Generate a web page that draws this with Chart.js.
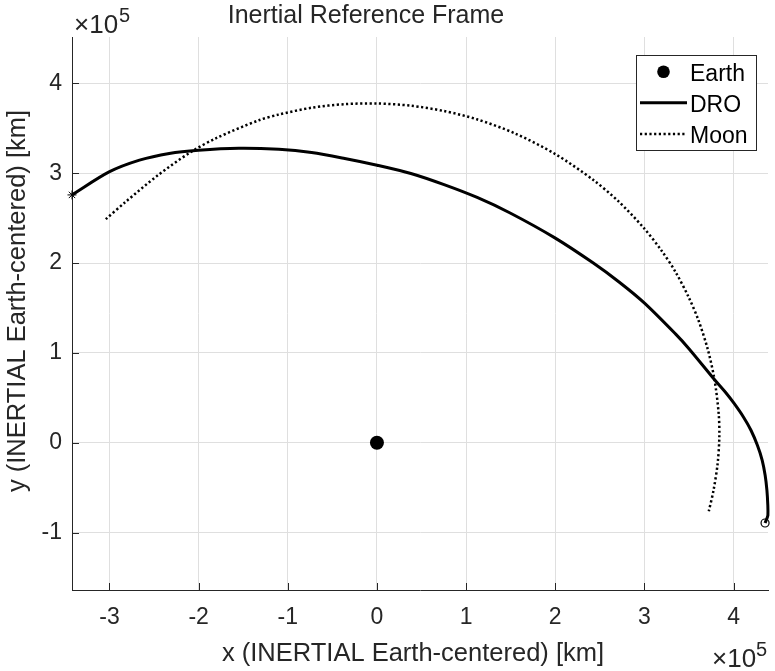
<!DOCTYPE html>
<html>
<head>
<meta charset="utf-8">
<title>Inertial Reference Frame</title>
<script src="https://cdn.jsdelivr.net/npm/chart.js@4.4.0/dist/chart.umd.min.js"></script>
<style>
  html, body { margin: 0; padding: 0; background: #fff; }
  #wrap { width: 775px; height: 671px; }
</style>
</head>
<body>
<div id="wrap"><canvas id="orbitChart" width="775" height="671"></canvas></div>
<script>
// Earth-centered inertial positions, km
const earthX = [0];
const earthY = [0];

const droX = [-342000, -300400, -266300, -233000, -200200, -154900, -110000, -73300, -36100, 200,
  38100, 75300, 112400, 149400, 199600, 242300, 271900, 299800, 335100, 349700, 379200,
  390900, 400400, 411200, 419500, 426700, 432100, 435400, 437400, 438400, 438500, 435300];
const droY = [275800, 301400, 314500, 322000, 325600, 327800, 326600, 323000, 316400, 308900,
  299700, 287300, 273000, 255700, 228000, 200200, 178600, 155600, 120800, 104900, 69500,
  56100, 43900, 28300, 13800, -2900, -19600, -36300, -53000, -69700, -80800, -89400];

const moonX = [-304100, -282200, -245500, -209700, -180300, -132700, -110300, -73200, -36300, 0,
  38100, 75100, 112100, 154700, 200000, 242700, 270700, 298900, 319300, 334800, 349500,
  360600, 371300, 378700, 383300, 384000, 382100, 377500, 372200];
const moonY = [248800, 267800, 297800, 322900, 339000, 358800, 365200, 372900, 376800, 377600,
  375100, 369200, 360000, 344300, 321300, 292400, 268800, 239500, 213700, 190200, 162200,
  136300, 103000, 69500, 32200, 6000, -23400, -53100, -76400];

const xTicks = [-300000, -200000, -100000, 0, 100000, 200000, 300000, 400000];
const yTicks = [-100000, 0, 100000, 200000, 300000, 400000];
const xLimits = [-342000, 438600];
const yLimits = [-164000, 451600];

const FONT = '"Liberation Sans", Arial, Helvetica, sans-serif';
const INK = '#262626';
const GRID = '#dfdfdf';

function toPoints(xs, ys) {
  return xs.map((x, i) => ({ x: x, y: ys[i] }));
}

// title, axis labels, x10^5 exponents, inward tick marks and the boxed legend
const axesDecor = {
  id: 'axesDecor',
  afterDraw(chart) {
    const ctx = chart.ctx;
    const area = chart.chartArea;
    const xs = chart.scales.x;
    const ys = chart.scales.y;
    ctx.save();

    // inward tick marks
    ctx.strokeStyle = INK;
    ctx.lineWidth = 1;
    ctx.beginPath();
    xTicks.forEach(v => {
      const px = Math.round(xs.getPixelForValue(v)) + 0.5;
      ctx.moveTo(px, area.bottom);
      ctx.lineTo(px, area.bottom - 7);
    });
    yTicks.forEach(v => {
      const py = Math.round(ys.getPixelForValue(v)) + 0.5;
      ctx.moveTo(area.left, py);
      ctx.lineTo(area.left + 7, py);
    });
    ctx.stroke();

    // title and axis labels
    ctx.fillStyle = INK;
    ctx.textAlign = 'center';
    ctx.textBaseline = 'alphabetic';
    ctx.font = '25px ' + FONT;
    ctx.fillText('Inertial Reference Frame', 366, 23);

    ctx.font = '25.5px ' + FONT;
    ctx.textBaseline = 'middle';
    ctx.fillText('x (INERTIAL Earth-centered) [km]', 413, 654);
    ctx.save();
    ctx.translate(18, 301);
    ctx.rotate(-Math.PI / 2);
    ctx.fillText('y (INERTIAL Earth-centered) [km]', 0, 0);
    ctx.restore();

    // exponent labels
    ctx.textAlign = 'left';
    ctx.textBaseline = 'alphabetic';
    ctx.font = '26px ' + FONT;
    ctx.fillText('\u00d710', 74, 33);
    ctx.fillText('\u00d710', 712, 667);
    ctx.font = '20px ' + FONT;
    ctx.fillText('5', 119, 22);
    ctx.fillText('5', 756, 656);

    // legend
    const sets = chart.data.datasets;
    const box = { l: 636, t: 55, r: 757, b: 151 };
    ctx.fillStyle = '#fff';
    ctx.fillRect(box.l, box.t, box.r - box.l, box.b - box.t);
    ctx.strokeStyle = INK;
    ctx.lineWidth = 1;
    ctx.strokeRect(box.l + 0.5, box.t + 0.5, box.r - box.l - 1, box.b - box.t - 1);

    const rows = [71.7, 102.7, 134];
    ctx.fillStyle = sets[0].pointBackgroundColor;
    ctx.beginPath();
    ctx.arc(663.5, rows[0], 6.3, 0, Math.PI * 2);
    ctx.fill();
    [1, 2].forEach(k => {
      const ds = sets[k];
      ctx.strokeStyle = ds.borderColor;
      ctx.lineWidth = ds.borderWidth;
      ctx.setLineDash(ds.borderDash || []);
      ctx.beginPath();
      ctx.moveTo(640, rows[k]);
      ctx.lineTo(687, rows[k]);
      ctx.stroke();
    });
    ctx.setLineDash([]);
    ctx.fillStyle = '#000';
    ctx.font = '23px ' + FONT;
    ctx.fillText(sets[0].label, 690, 80.7);
    ctx.fillText(sets[1].label, 690, 111.7);
    ctx.fillText(sets[2].label, 690, 142.7);

    ctx.restore();
  }
};

const last = droX.length - 1;

new Chart(document.getElementById('orbitChart').getContext('2d'), {
  type: 'scatter',
  data: {
    datasets: [
      {
        label: 'Earth',
        data: toPoints(earthX, earthY),
        pointRadius: 7,
        pointBackgroundColor: '#000',
        pointBorderWidth: 0,
        showLine: false
      },
      {
        label: 'DRO',
        data: toPoints(droX, droY),
        showLine: true,
        borderColor: '#000',
        borderWidth: 3,
        pointRadius: 0,
        tension: 0.3,
        clip: false
      },
      {
        label: 'Moon',
        data: toPoints(moonX, moonY),
        showLine: true,
        borderColor: '#000',
        borderWidth: 2.5,
        borderDash: [2.2, 2.5],
        borderCapStyle: 'butt',
        pointRadius: 0,
        tension: 0.3
      },
      {
        label: 'DRO start',
        data: [{ x: droX[0], y: droY[0] }],
        pointStyle: 'star',
        pointRadius: 4.5,
        pointBorderColor: '#000',
        pointBorderWidth: 1,
        clip: false
      },
      {
        label: 'DRO end',
        data: [{ x: droX[last], y: droY[last] }],
        pointStyle: 'circle',
        pointRadius: 4,
        pointBackgroundColor: 'rgba(255,255,255,0)',
        pointBorderColor: '#000',
        pointBorderWidth: 1.2,
        clip: false
      }
    ]
  },
  options: {
    responsive: false,
    animation: false,
    layout: { padding: { top: 37, right: 2, left: 0, bottom: 0 } },
    plugins: {
      legend: { display: false },
      tooltip: { enabled: false }
    },
    scales: {
      x: {
        type: 'linear',
        min: xLimits[0],
        max: xLimits[1],
        afterFit: s => { s.height = 81; },
        afterBuildTicks: s => { s.ticks = xTicks.map(v => ({ value: v })); },
        grid: { color: GRID, lineWidth: 1, drawTicks: false },
        border: { display: true, color: INK, width: 1 },
        ticks: {
          color: INK,
          font: { family: FONT, size: 23 },
          padding: 14,
          maxRotation: 0,
          callback: v => String(v / 100000)
        }
      },
      y: {
        type: 'linear',
        min: yLimits[0],
        max: yLimits[1],
        afterFit: s => { s.width = 72; },
        afterBuildTicks: s => { s.ticks = yTicks.map(v => ({ value: v })); },
        grid: { color: GRID, lineWidth: 1, drawTicks: false },
        border: { display: true, color: INK, width: 1 },
        ticks: {
          color: INK,
          font: { family: FONT, size: 23 },
          padding: 10,
          callback: v => String(v / 100000)
        }
      }
    }
  },
  plugins: [axesDecor]
});
</script>
</body>
</html>
